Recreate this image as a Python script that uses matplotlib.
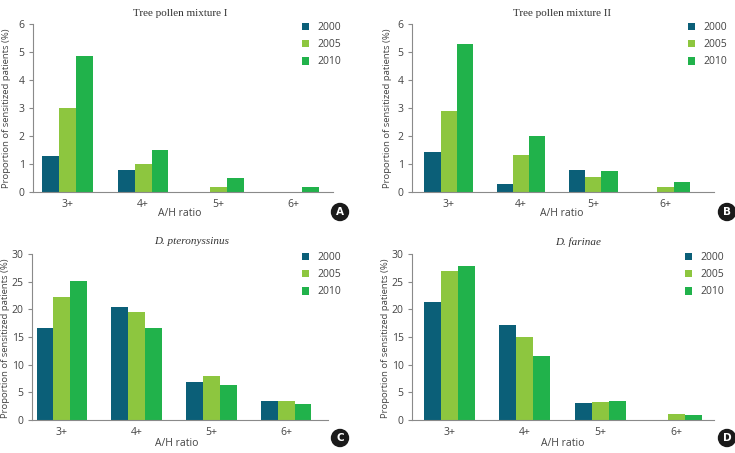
import matplotlib
matplotlib.use("Agg")
import matplotlib.pyplot as plt
from matplotlib.patches import Circle
from matplotlib.transforms import IdentityTransform
import numpy as np

W, H = 735, 453
categories = ["3+", "4+", "5+", "6+"]
years = ["2000", "2005", "2010"]
colors = ["#0b5f78", "#8dc63f", "#21b24b"]

a_2000 = [1.3, 0.8, 0.0, 0.0]
a_2005 = [3.0, 1.0, 0.18, 0.0]
a_2010 = [4.87, 1.5, 0.5, 0.18]

b_2000 = [1.43, 0.27, 0.77, 0.0]
b_2005 = [2.88, 1.31, 0.55, 0.18]
b_2010 = [5.3, 2.0, 0.74, 0.36]

c_2000 = [16.7, 20.5, 6.9, 3.5]
c_2005 = [22.2, 19.5, 7.9, 3.5]
c_2010 = [25.1, 16.6, 6.4, 2.9]

d_2000 = [21.4, 17.1, 3.0, 0.0]
d_2005 = [26.9, 15.0, 3.2, 1.1]
d_2010 = [27.9, 11.5, 3.5, 0.85]

fig = plt.figure(figsize=(W / 100, H / 100), dpi=100)
fig.patch.set_facecolor("white")

def px_axes(l, r, t, b):
    return fig.add_axes([l / W, 1 - b / H, (r - l) / W, (b - t) / H])

panels = [
    dict(box=(33, 333, 24, 192), data=(a_2000, a_2005, a_2010), ymax=6, step=1,
         xlim=(-0.46, 3.52), title="Tree pollen mixture I", tx=180, ty=13, italic=False,
         ylx=7, yly=108, xlx=180, xly=214, legx=302, legy=22, badge="A", bx=340, by=212),
    dict(box=(412, 714, 24, 192), data=(b_2000, b_2005, b_2010), ymax=6, step=1,
         xlim=(-0.51, 3.67), title="Tree pollen mixture II", tx=562, ty=13, italic=False,
         ylx=388, yly=108, xlx=562, xly=214, legx=688, legy=22, badge="B", bx=727, by=212),
    dict(box=(32, 328, 254, 420), data=(c_2000, c_2005, c_2010), ymax=30, step=5,
         xlim=(-0.40, 3.56), title="D. pteronyssinus", tx=192, ty=242, italic=True,
         ylx=6, yly=338, xlx=177, xly=443, legx=302, legy=252, badge="C", bx=340, by=438),
    dict(box=(412, 714, 254, 420), data=(d_2000, d_2005, d_2010), ymax=30, step=5,
         xlim=(-0.49, 3.50), title="D. farinae", tx=578, ty=242, italic=True,
         ylx=386, yly=338, xlx=563, xly=443, legx=685, legy=252, badge="D", bx=727, by=438),
]

grey = "#8a8a8a"
x = np.arange(len(categories))
bw = 0.225
for p in panels:
    ax = px_axes(*p["box"])
    for i, (vals, col, yr) in enumerate(zip(p["data"], colors, years)):
        ax.bar(x + (i - 1) * bw, vals, width=bw, color=col, label=yr, linewidth=0)
    ax.set_xlim(*p["xlim"])
    ax.set_ylim(0, p["ymax"])
    ax.set_yticks(np.arange(0, p["ymax"] + 0.01, p["step"]))
    ax.set_xticks(x)
    ax.set_xticklabels(categories)
    for s in ["top", "right"]:
        ax.spines[s].set_visible(False)
    for s in ["left", "bottom"]:
        ax.spines[s].set_color(grey)
        ax.spines[s].set_linewidth(0.8)
    ax.tick_params(axis="y", length=3, width=0.8, color=grey, labelsize=7.5,
                   labelcolor="#444444", pad=3)
    ax.tick_params(axis="x", length=0, labelsize=7.5, labelcolor="#444444", pad=5)
    for lab in ax.get_yticklabels() + ax.get_xticklabels():
        lab.set_family("Open Sans")
    fig.text(p["tx"] / W, 1 - p["ty"] / H, p["title"], ha="center", va="center",
             fontsize=8, family="Liberation Serif",
             style="italic" if p["italic"] else "normal", color="#333333")
    fig.text(p["ylx"] / W, 1 - p["yly"] / H, "Proportion of sensitized patients (%)",
             rotation=90, ha="center", va="center", fontsize=6.8, family="Open Sans",
             color="#444444")
    fig.text(p["xlx"] / W, 1 - p["xly"] / H, "A/H ratio", ha="center", va="center",
             fontsize=7.5, family="Open Sans", color="#444444")
    leg = ax.legend(loc="upper left", bbox_to_anchor=(p["legx"] / W, 1 - p["legy"] / H),
                    bbox_transform=fig.transFigure, frameon=False,
                    handlelength=0.7, handleheight=0.7, handletextpad=0.8,
                    labelspacing=0.6, borderpad=0, borderaxespad=0,
                    prop={"family": "Open Sans", "size": 7.5})
    for t in leg.get_texts():
        t.set_color("#444444")
    fig.patches.append(Circle((p["bx"], H - p["by"]), 8.5, color="#1a1a1a",
                              transform=IdentityTransform(), zorder=10))
    fig.text(p["bx"] / W, 1 - p["by"] / H, p["badge"], ha="center", va="center",
             fontsize=7.5, fontweight="bold", color="white", family="DejaVu Sans", zorder=11)

fig.savefig("out.png", dpi=100, facecolor="white")
